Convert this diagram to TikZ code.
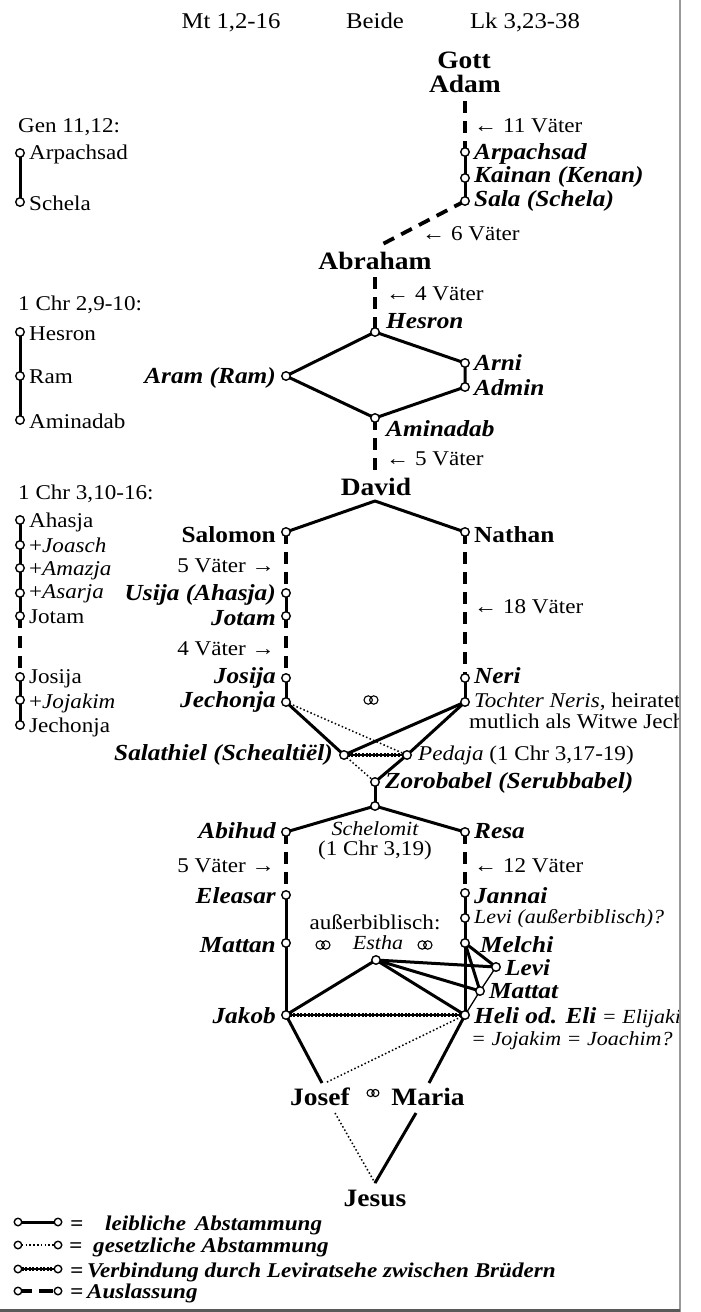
\documentclass[tikz,border=0pt]{standalone}
\usepackage{fontspec}
\setmainfont{Liberation Serif}[FakeStretch=1.1]
\newcommand\fsz[1]{\fontsize{#1}{#1}\selectfont}
\pgfdeclarelayer{edges}
\pgfsetlayers{edges,main}
\begin{document}
\begin{tikzpicture}[x=1pt,y=-1pt,
 ring/.style={circle,draw,fill=white,line width=1.4pt,inner sep=0pt,minimum size=8.5pt},
 lring/.style={ring,minimum size=7.5pt},
 bio/.style={line width=3pt},
 thinbio/.style={line width=1.3pt},
 legal/.style={line width=1.5pt,dash pattern=on 1.5pt off 2.3pt},
 levir/.style={line width=3.5pt,dash pattern=on 2pt off 1.6pt,preaction={draw,solid,line width=1.2pt}},
 omit/.style={line width=3.8pt,dash pattern=on 12pt off 8pt},
 nrm/.style={inner sep=0pt,font=\fsz{21}},
 itl/.style={inner sep=0pt,font=\fsz{20}\itshape},
 bi/.style={inner sep=0pt,font=\fsz{23}\bfseries\itshape},
 bn/.style={inner sep=0pt,font=\fsz{23}\bfseries},
 big/.style={inner sep=0pt,font=\fsz{25}\bfseries},
 hdr/.style={inner sep=0pt,font=\fsz{22.5}},
 leg/.style={inner sep=0pt,font=\fsz{21}\bfseries\itshape},
 marr/.pic={\draw[line width=1.1pt] (-2.8,0) circle[radius=4.2] (2.8,0) circle[radius=4.2];}
]
\useasboundingbox (0,0) rectangle (701,1312);
\begin{scope}
\clip (0,0) rectangle (679,1312);
% header
\node[hdr,anchor=base] (mt) at (231,28) {Mt 1,2-16};
\node[hdr,anchor=base] (beide) at (375,28) {Beide};
\node[hdr,anchor=base] (lk) at (525,28) {Lk 3,23-38};
% top
\node[big,anchor=base] (gott) at (464,68) {Gott};
\node[big,anchor=base] (adam) at (465,92) {Adam};
\coordinate (adamfoot) at (465,101);
\node[nrm,anchor=base west] (v11) at (474,132) {← 11 Väter};
\node[ring] (arpR) at (465,152) {};
\node[bi,anchor=base west] at (474,159) {Arpachsad};
\node[ring] (kai) at (465,178) {};
\node[bi,anchor=base west] at (474,182) {Kainan (Kenan)};
\node[ring] (sal) at (465,201) {};
\node[bi,anchor=base west] at (474,206) {Sala (Schela)};
\node[nrm,anchor=base west] (v6) at (422,240) {← 6 Väter};
\node[big,anchor=base] (abr) at (375,269) {Abraham};
\coordinate (abrtop) at (377,247);
\coordinate (abrfoot) at (375,277);
\node[nrm,anchor=base west] (v4) at (386,300) {← 4 Väter};
\node[ring] (hes) at (375,332) {};
\node[bi,anchor=base west] at (386,328) {Hesron};
\node[ring] (arni) at (465,363) {};
\node[bi,anchor=base west] at (474,370) {Arni};
\node[ring] (admin) at (465,387) {};
\node[bi,anchor=base west] at (474,395) {Admin};
\node[ring] (aram) at (286,376) {};
\node[bi,anchor=base east] at (276,383) {Aram (Ram)};
\node[ring] (amin) at (375,418) {};
\node[bi,anchor=base west] at (386,436) {Aminadab};
\node[nrm,anchor=base west] (v5) at (386,465) {← 5 Väter};
\coordinate (davtop) at (375,473);
\node[big,anchor=base] (david) at (376,495) {David};
\coordinate (davfoot) at (375,501);
\node[ring] (salomon) at (286,532) {};
\node[bn,anchor=base east] at (276,542) {Salomon};
\node[ring] (nathan) at (465,532) {};
\node[bn,anchor=base west] at (474,542) {Nathan};
\node[nrm,anchor=base east] at (275,572) {5 Väter →};
\node[ring] (usija) at (286,593) {};
\node[bi,anchor=base east] at (276,600) {Usija (Ahasja)};
\node[ring] (jotam) at (286,616) {};
\node[bi,anchor=base east] at (276,625) {Jotam};
\node[nrm,anchor=base east] at (275,655) {4 Väter →};
\node[ring] (josija) at (286,678) {};
\node[bi,anchor=base east] at (276,683) {Josija};
\node[ring] (jech) at (286,702) {};
\node[bi,anchor=base east] at (276,707) {Jechonja};
\node[nrm,anchor=base west] at (474,613) {← 18 Väter};
\node[ring] (neri) at (465,678) {};
\node[bi,anchor=base west] at (474,683) {Neri};
\node[ring] (tochter) at (465,702) {};
\node[nrm,anchor=base west] at (474,707) {{\itshape Tochter Neris}, heiratet};
\node[nrm,anchor=base west] at (469,728) {mutlich als Witwe Jech};
\pic at (371,700) {marr};
\node[ring] (salath) at (344,755) {};
\node[bi,anchor=base east] at (333,760) {Salathiel (Schealtiël)};
\node[ring] (pedaja) at (407,755) {};
\node[nrm,anchor=base west] at (418,760) {{\itshape Pedaja} (1 Chr 3,17-19)};
\node[ring] (zoro) at (375,782) {};
\node[bi,anchor=base west] at (385,788) {Zorobabel (Serubbabel)};
\node[ring] (junc) at (375,806) {};
\node[ring] (abihud) at (286,832) {};
\node[bi,anchor=base east] at (276,838) {Abihud};
\node[ring] (resa) at (465,832) {};
\node[bi,anchor=base west] at (474,838) {Resa};
\node[itl,anchor=base] at (375,835) {Schelomit};
\node[nrm,anchor=base] at (375,855) {(1 Chr 3,19)};
\node[nrm,anchor=base east] at (275,872) {5 Väter →};
\node[nrm,anchor=base west] at (474,872) {← 12 Väter};
\node[ring] (eleasar) at (286,895) {};
\node[bi,anchor=base east] at (276,903) {Eleasar};
\node[ring] (jannai) at (465,893) {};
\node[bi,anchor=base west] at (474,903) {Jannai};
\node[ring] (levia) at (465,918) {};
\node[itl,anchor=base west] at (474,923) {Levi (außerbiblisch)?};
\node[ring] (mattan) at (286,943) {};
\node[bi,anchor=base east] at (276,952) {Mattan};
\node[ring] (melchi) at (465,943) {};
\node[bi,anchor=base west] at (480,952) {Melchi};
\node[nrm,anchor=base] at (375,929) {außerbiblisch:};
\node[itl,anchor=base] at (378,949) {Estha};
\pic at (323,945) {marr};
\pic at (425,945) {marr};
\node[ring] (estha) at (376,960) {};
\node[ring] (levi) at (496,967) {};
\node[bi,anchor=base west] at (505,975) {Levi};
\node[ring] (mattat) at (480,991) {};
\node[bi,anchor=base west] at (489,998) {Mattat};
\node[ring] (jakob) at (286,1015) {};
\node[bi,anchor=base east] at (276,1023) {Jakob};
\node[ring] (heli) at (465,1015) {};
\node[itl,anchor=base west] at (474,1023) {{\fsz{23}\bfseries Heli od. Eli} = Elijaki};
\node[itl,anchor=base west] at (471,1045) {= Jojakim = Joachim?};
\node[big,anchor=base] (josef) at (320,1105) {Josef};
\node[big,anchor=base] (maria) at (428,1105) {Maria};
\pic[scale=0.85] at (373,1093) {marr};
\coordinate (josefin) at (322,1083);
\coordinate (josefin2) at (325,1083);
\coordinate (mariain) at (429,1083);
\coordinate (josefout) at (335,1113);
\coordinate (mariaout) at (416,1113);
\coordinate (jesustop) at (375,1183);
\node[big,anchor=base] (jesus) at (375,1206) {Jesus};
% left column
\node[nrm,anchor=base west] at (18,132) {Gen 11,12:};
\node[ring] (g1) at (20,153) {};
\node[nrm,anchor=base west] at (29,159) {Arpachsad};
\node[ring] (g2) at (20,202) {};
\node[nrm,anchor=base west] at (29,210) {Schela};
\node[nrm,anchor=base west] at (18,310) {1 Chr 2,9-10:};
\node[ring] (c1) at (20,332) {};
\node[nrm,anchor=base west] at (29,340) {Hesron};
\node[ring] (c2) at (20,376) {};
\node[nrm,anchor=base west] at (29,383) {Ram};
\node[ring] (c3) at (20,420) {};
\node[nrm,anchor=base west] at (29,428) {Aminadab};
\node[nrm,anchor=base west] at (18,499) {1 Chr 3,10-16:};
\node[ring] (k1) at (20,520) {};
\node[nrm,anchor=base west] at (29,527) {Ahasja};
\node[ring] (k2) at (20,545) {};
\node[nrm,anchor=base west] at (29,552) {+\textit{Joasch}};
\node[ring] (k3) at (20,568) {};
\node[nrm,anchor=base west] at (29,575) {+\textit{Amazja}};
\node[ring] (k4) at (20,593) {};
\node[nrm,anchor=base west] at (29,598) {+\textit{Asarja}};
\node[ring] (k5) at (20,616) {};
\node[nrm,anchor=base west] at (29,623) {Jotam};
\node[ring] (k6) at (20,677) {};
\node[nrm,anchor=base west] at (29,683) {Josija};
\node[ring] (k7) at (20,700) {};
\node[nrm,anchor=base west] at (29,708) {+\textit{Jojakim}};
\node[ring] (k8) at (20,725) {};
\node[nrm,anchor=base west] at (29,732) {Jechonja};
% legend
\node[lring] (l1a) at (18,1222) {}; \node[lring] (l1b) at (58,1222) {};
\node[lring] (l2a) at (18,1245) {}; \node[lring] (l2b) at (58,1245) {};
\node[lring] (l3a) at (18,1269) {}; \node[lring] (l3b) at (58,1269) {};
\node[lring] (l4a) at (18,1291) {}; \node[lring] (l4b) at (58,1291) {};
\node[leg,anchor=base west] at (70,1230) {=};
\node[leg,anchor=base west] at (105,1230) {leibliche\hspace{9pt}Abstammung};
\node[leg,anchor=base west] at (69,1252) {=};
\node[leg,anchor=base west] at (93,1252) {gesetzliche Abstammung};
\node[leg,anchor=base west] at (70,1277) {=};
\node[leg,anchor=base west] at (87,1277) {Verbindung durch Leviratsehe zwischen Brüdern};
\node[leg,anchor=base west] at (70,1298) {=};
\node[leg,anchor=base west] at (87,1298) {Auslassung};
% edges
\begin{pgfonlayer}{edges}
\draw[omit] (adamfoot) -- (arpR.center);
\draw[bio] (arpR.center) -- (kai.center) -- (sal.center);
\draw[omit] (sal.center) -- (abrtop);
\draw[omit] (abrfoot) -- (hes.center);
\draw[bio,line join=round] (hes.center) -- (arni.center) -- (admin.center) -- (amin.center) -- (aram.center) -- cycle;
\draw[omit] (amin.center) -- (davtop);
\draw[bio,line join=round] (salomon.center) -- (davfoot) -- (nathan.center);
\draw[omit] (salomon.center) -- (usija.center);
\draw[bio] (usija.center) -- (jotam.center);
\draw[omit] (jotam.center) -- (josija.center);
\draw[bio] (josija.center) -- (jech.center);
\draw[omit] (nathan.center) -- (neri.center);
\draw[bio] (neri.center) -- (tochter.center);
\draw[bio] (jech.center) -- (salath.center);
\draw[bio] (tochter.center) -- (salath.center);
\draw[bio] (tochter.center) -- (pedaja.center);
\draw[bio] (pedaja.center) -- (zoro.center);
\draw[legal] (jech.center) -- (pedaja.center);
\draw[legal] (salath.center) -- (zoro.center);
\draw[levir] (salath.center) -- (pedaja.center);
\draw[bio] (zoro.center) -- (junc.center);
\draw[bio,line join=round] (abihud.center) -- (junc.center) -- (resa.center);
\draw[omit] (abihud.center) -- (eleasar.center);
\draw[bio] (eleasar.center) -- (mattan.center) -- (jakob.center);
\draw[omit] (resa.center) -- (jannai.center);
\draw[bio] (jannai.center) -- (levia.center) -- (melchi.center) -- (heli.center);
\draw[bio] (melchi.center) -- (levi.center);
\draw[bio] (melchi.center) -- (mattat.center);
\draw[thinbio] (levi.center) -- (mattat.center) -- (heli.center);
\draw[bio] (estha.center) -- (jakob.center);
\draw[bio] (estha.center) -- (levi.center);
\draw[bio] (estha.center) -- (mattat.center);
\draw[bio] (estha.center) -- (heli.center);
\draw[levir] (jakob.center) -- (heli.center);
\draw[bio] (jakob.center) -- (josefin);
\draw[legal] (heli.center) -- (josefin2);
\draw[bio] (heli.center) -- (mariain);
\draw[legal] (josefout) -- (jesustop);
\draw[bio] (mariaout) -- (jesustop);
\draw[bio] (g1.center) -- (g2.center);
\draw[bio] (c1.center) -- (c2.center) -- (c3.center);
\draw[bio] (k1.center) -- (k2.center) -- (k3.center) -- (k4.center) -- (k5.center);
\draw[omit] (k5.center) -- (k6.center);
\draw[bio] (k6.center) -- (k7.center) -- (k8.center);
\draw[bio] (l1a.center) -- (l1b.center);
\draw[legal] (l2a.center) -- (l2b.center);
\draw[levir] (l3a.center) -- (l3b.center);
\draw[line width=3.5pt,dash pattern=on 14pt off 7pt] (l4a.center) -- (l4b.center);
\end{pgfonlayer}
\end{scope}
% frame lines
\draw[black!40,line width=1.3pt] (680,0) -- (680,1312);
\draw[black!65,line width=3pt] (0,1310.5) -- (680,1310.5);
\end{tikzpicture}
\end{document}
